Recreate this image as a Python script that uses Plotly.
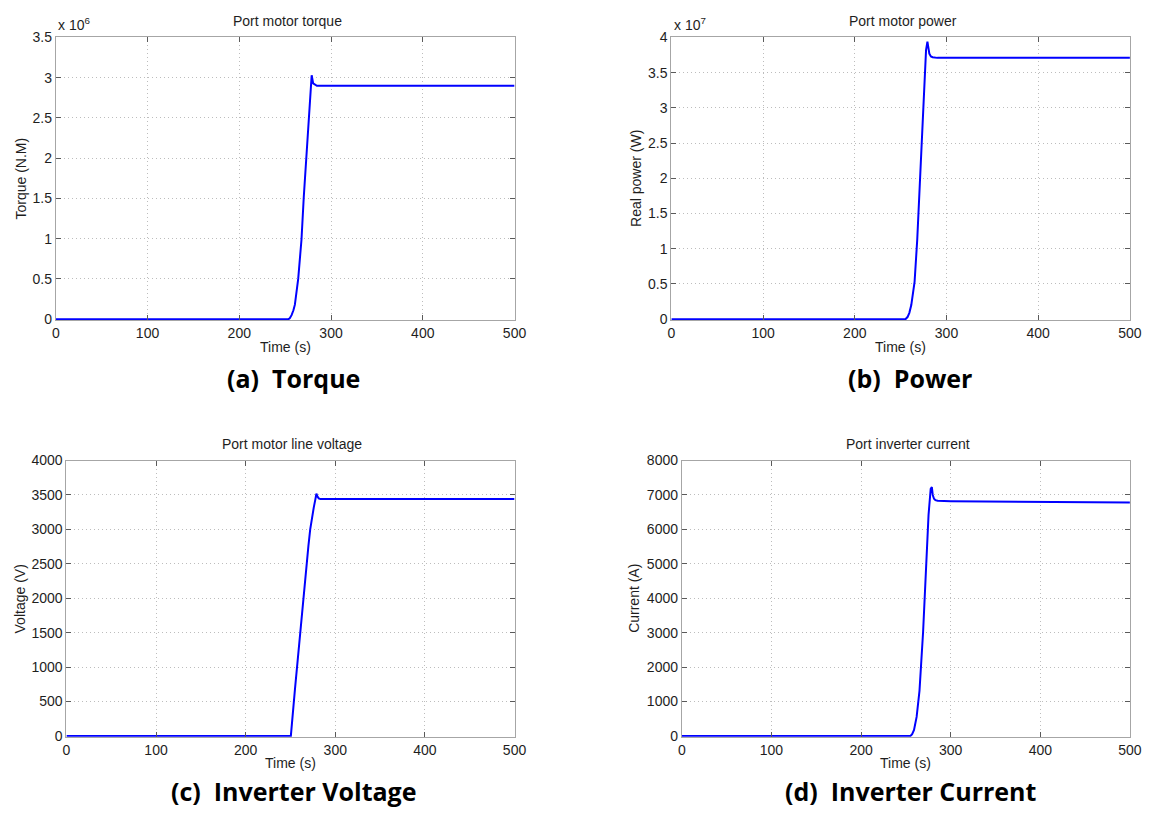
import plotly.graph_objects as go

# ---------------- data ----------------
time_torque = [0, 253.5, 255, 257, 259, 260.6, 264.2, 267.8, 270.3, 273.2, 275.7, 277.8, 278.9, 280.5, 282.5, 284.6, 290, 500]
torque = [0, 0, 0.01e6, 0.05e6, 0.11e6, 0.18e6, 0.50e6, 0.99e6, 1.52e6, 2.04e6, 2.53e6, 2.93e6, 3.03e6, 2.93e6, 2.91e6, 2.90e6, 2.90e6, 2.90e6]

time_power = [0, 255.2, 257.5, 259.5, 261.6, 265.2, 268.1, 270.6, 273.1, 275.6, 277.7, 279.2, 280.2, 281.3, 283, 284.9, 290, 500]
power = [0, 0, 0.03e7, 0.09e7, 0.20e7, 0.53e7, 1.13e7, 1.82e7, 2.57e7, 3.31e7, 3.82e7, 3.94e7, 3.85e7, 3.77e7, 3.73e7, 3.72e7, 3.71e7, 3.71e7]

time_voltage = [0, 250.4, 255, 260.6, 265, 267.9, 270, 272, 274, 276, 277.8, 278.9, 280, 281.5, 283.5, 286, 500]
voltage = [0, 0, 680, 1500, 2120, 2500, 2760, 3000, 3180, 3320, 3440, 3520, 3480, 3450, 3440, 3440, 3440]

time_current = [0, 255.1, 257, 259.1, 262, 265.2, 269.2, 272.5, 275.3, 277.7, 279, 280, 281.4, 283, 285.4, 300, 400, 500]
current = [0, 0, 50, 170, 550, 1310, 3010, 5000, 6420, 7180, 7230, 7000, 6890, 6850, 6830, 6820, 6800, 6780]

x_ticks = [0, 100, 200, 300, 400, 500]
torque_ticks = [0, 0.5e6, 1e6, 1.5e6, 2e6, 2.5e6, 3e6, 3.5e6]
torque_ticktext = ["0", "0.5", "1", "1.5", "2", "2.5", "3", "3.5"]
power_ticks = [0, 0.5e7, 1e7, 1.5e7, 2e7, 2.5e7, 3e7, 3.5e7, 4e7]
power_ticktext = ["0", "0.5", "1", "1.5", "2", "2.5", "3", "3.5", "4"]
voltage_ticks = [0, 500, 1000, 1500, 2000, 2500, 3000, 3500, 4000]
current_ticks = [0, 1000, 2000, 3000, 4000, 5000, 6000, 7000, 8000]

panel_titles = ["Port motor torque", "Port motor power", "Port motor line voltage", "Port inverter current"]
y_titles = ["Torque (N.M)", "Real power (W)", "Voltage (V)", "Current (A)"]
x_title = "Time (s)"
captions = ["(a)  Torque", "(b)  Power", "(c)  Inverter Voltage", "(d)  Inverter Current"]
exponents = ["x 10<sup>6</sup>", "x 10<sup>7</sup>"]

# ---------------- layout geometry ----------------
W, H = 1158, 816
def px(x):
    return x / W
def py(y):
    return 1 - y / H

# plot rectangles in pixels: (left, right, top, bottom)
rects = [
    (52.5, 517.7, 30, 318),
    (676.7, 1141.7, 30, 318),
    (63.3, 517.7, 461, 742.5),
    (687.3, 1141.7, 461, 742.5),
]

FONT = "Liberation Sans, Arial, sans-serif"
TXT = "#1e1e1e"
fig = go.Figure()

series = [(time_torque, torque), (time_power, power), (time_voltage, voltage), (time_current, current)]
for i, (t, v) in enumerate(series):
    sfx = "" if i == 0 else str(i + 1)
    fig.add_trace(go.Scatter(x=t, y=v, mode="lines", xaxis="x" + sfx, yaxis="y" + sfx,
                             line=dict(color="#0000ff", width=2), showlegend=False,
                             hoverinfo="skip"))

yinfo = [
    (3.5e6, torque_ticks, torque_ticktext),
    (4e7, power_ticks, power_ticktext),
    (4000, voltage_ticks, [str(v) for v in voltage_ticks]),
    (8000, current_ticks, [str(v) for v in current_ticks]),
]

common = dict(showline=True, linecolor="#a6a6a6", linewidth=1, mirror="ticks",
              ticks="inside", ticklen=5, tickcolor="#5a5a5a",
              showgrid=True, gridcolor="#bdbdbd", griddash="1px,3px", gridwidth=1,
              zeroline=False, tickfont=dict(family=FONT, size=14, color=TXT))

layout = dict(width=W, height=H, margin=dict(l=0, r=0, t=0, b=0),
              paper_bgcolor="white", plot_bgcolor="white", showlegend=False)

annotations = []
for i, (l, r, t, b) in enumerate(rects):
    sfx = "" if i == 0 else str(i + 1)
    ymax, tv, tt = yinfo[i]
    layout["xaxis" + sfx] = dict(domain=[px(l), px(r)], anchor="y" + sfx, range=[0, 500],
                                 tickvals=x_ticks, ticktext=[str(v) for v in x_ticks], **common)
    layout["yaxis" + sfx] = dict(domain=[py(b), py(t)], anchor="x" + sfx,
                                 range=[-0.0035 * ymax, ymax], tickvals=tv, ticktext=tt, **common)
    cx = (l + r) / 2
    annotations.append(dict(x=px(cx + 2), y=py(t - 17), xref="paper", yref="paper", text=panel_titles[i],
                            showarrow=False, xanchor="center", yanchor="middle",
                            font=dict(family=FONT, size=14, color=TXT)))
    annotations.append(dict(x=px(cx), y=py(b + 27), xref="paper", yref="paper", text=x_title,
                            showarrow=False, xanchor="center", yanchor="middle",
                            font=dict(family=FONT, size=14, color=TXT)))
    ytx = [17, 641, 16, 639][i]
    annotations.append(dict(x=px(ytx), y=py((t + b) / 2), xref="paper", yref="paper", text=y_titles[i],
                            showarrow=False, xanchor="center", yanchor="middle", textangle=-90,
                            font=dict(family=FONT, size=14, color=TXT)))
    capx = [294, 919, 294, 920][i]
    capy = [377, 377, 798, 798][i]
    annotations.append(dict(x=px(capx), y=py(capy), xref="paper", yref="paper",
                            text="<b>" + captions[i] + "</b>",
                            showarrow=False, xanchor="center", yanchor="middle",
                            font=dict(family="Open Sans, sans-serif", size=25, color="black")))

for j, xl in enumerate([53, 677]):
    annotations.append(dict(x=px(xl), y=py(28), xref="paper", yref="paper", text=exponents[j],
                            showarrow=False, xanchor="left", yanchor="bottom",
                            font=dict(family=FONT, size=14, color=TXT)))

layout["annotations"] = annotations
fig.update_layout(**layout)

fig.write_html("out.html")
